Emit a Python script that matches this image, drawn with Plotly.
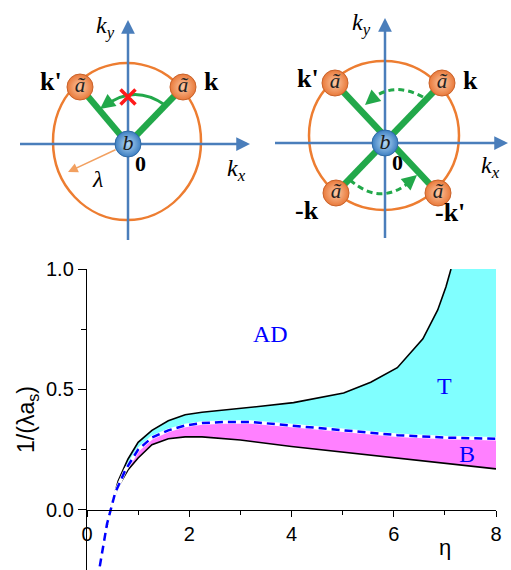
import plotly.graph_objects as go

# ---------------- phase diagram data (eta, 1/(lambda a_s)) ----------------
eta_upper = [0.39, 0.49, 0.61, 0.8, 1.0, 1.27, 1.59, 1.92, 2.25, 3.0, 3.4, 4.04, 5.02, 5.55, 6.07, 6.57, 6.86, 7.02, 7.12]
upper = [-0.07, 0.03, 0.12, 0.21, 0.28, 0.33, 0.37, 0.395, 0.405, 0.42, 0.43, 0.445, 0.485, 0.53, 0.59, 0.71, 0.83, 0.925, 1.0]

eta_lower = [0.39, 0.49, 0.61, 0.8, 1.0, 1.27, 1.59, 1.92, 2.25, 3.0, 4.0, 5.0, 6.0, 7.0, 8.0]
lower = [-0.07, 0.03, 0.095, 0.165, 0.215, 0.27, 0.295, 0.303, 0.303, 0.29, 0.263, 0.24, 0.217, 0.195, 0.17]

eta_dash = [0.25, 0.39, 0.55, 0.75, 1.0, 1.27, 1.59, 1.92, 2.25, 2.7, 3.2, 4.0, 5.0, 6.07, 7.0, 8.0]
dash = [-0.235, -0.06, 0.07, 0.165, 0.25, 0.30, 0.33, 0.35, 0.36, 0.365, 0.365, 0.35, 0.33, 0.31, 0.30, 0.295]

x_ticks = [0, 2, 4, 6, 8]
x_minor = [1, 3, 5, 7]
y_ticks = [0.0, 0.5, 1.0]
y_minor = [0.25, 0.75]
y_top = 1.0
x_end = 8.0

region_labels = ["AD", "T", "B"]
region_eta = [3.58, 6.99, 7.44]
region_y = [0.73, 0.515, 0.232]

# ---------------- momentum-space sketches (pixel-like coordinates) ----------------
# sketch 1
d1_b = [128, 144]
d1_a_x = [80, 183]
d1_a_y = [87, 87]
d1_ring = [53, 63, 201, 220]
d1_hax = [20, 250, 144]
d1_vax = [128, 240, 20]
# sketch 2
d2_b = [385, 143]
d2_a_x = [335, 442, 336, 438]
d2_a_y = [83, 83, 193, 193]
d2_ring = [309, 61, 459, 210]
d2_hax = [275, 508, 143]
d2_vax = [385, 238, 18]

AXC = "#4a7ebb"
RING = "#ed7d31"
GREEN = "#22a84a"
SERIF = "Liberation Serif"
SANS = "Liberation Sans"

fig = go.Figure()

# ----- fills -----
dash_x = [x for x in eta_dash if x >= 0.39]
dash_y = [y for x, y in zip(eta_dash, dash) if x >= 0.39]

cyan_x = eta_upper + [x_end] + dash_x[::-1]
cyan_y = upper + [y_top] + dash_y[::-1]
fig.add_trace(go.Scatter(x=cyan_x, y=cyan_y, fill="toself", fillcolor="#80ffff",
                         line=dict(width=0), mode="lines", hoverinfo="skip", showlegend=False))
mag_x = dash_x + eta_lower[::-1]
mag_y = dash_y + lower[::-1]
fig.add_trace(go.Scatter(x=mag_x, y=mag_y, fill="toself", fillcolor="#ff80ff",
                         line=dict(width=0), mode="lines", hoverinfo="skip", showlegend=False))

# ----- boundary lines -----
fig.add_trace(go.Scatter(x=eta_upper, y=upper, mode="lines", line=dict(color="black", width=1.6),
                         showlegend=False, hoverinfo="skip"))
fig.add_trace(go.Scatter(x=eta_lower, y=lower, mode="lines", line=dict(color="black", width=1.6),
                         showlegend=False, hoverinfo="skip"))
fig.add_trace(go.Scatter(x=dash_x, y=dash_y, mode="lines", line=dict(color="white", width=3.5),
                         showlegend=False, hoverinfo="skip"))
fig.add_trace(go.Scatter(x=eta_dash, y=dash, mode="lines",
                         line=dict(color="#0000ff", width=2.5, dash="8px,5px"),
                         showlegend=False, hoverinfo="skip", cliponaxis=False))

for lab_, ex, ey in zip(region_labels, region_eta, region_y):
    fig.add_annotation(x=ex, y=ey, xref="x", yref="y", text=lab_, showarrow=False,
                       font=dict(family=SERIF, size=24, color="#0000ff"))
fig.add_annotation(x=7.0, y=-0.158, xref="x", yref="y", text="η", showarrow=False,
                   font=dict(family=SANS, size=22, color="black"))

# ----- sketches: shapes -----
def ref2(d):
    d.update(xref="x2", yref="y2")
    return d

for ring in (d1_ring, d2_ring):
    fig.add_shape(ref2(dict(type="circle", x0=ring[0], y0=ring[1], x1=ring[2], y1=ring[3],
                            line=dict(color=RING, width=2.5), layer="below")))

for hax, vax in ((d1_hax, d1_vax), (d2_hax, d2_vax)):
    fig.add_shape(ref2(dict(type="line", x0=hax[0], x1=hax[1] - 6, y0=hax[2], y1=hax[2],
                            line=dict(color=AXC, width=2.5), layer="below")))
    fig.add_shape(ref2(dict(type="line", x0=vax[0], x1=vax[0], y0=vax[1], y1=vax[2] + 6,
                            line=dict(color=AXC, width=2.5), layer="below")))
    fig.add_annotation(xref="x2", yref="y2", axref="x2", ayref="y2", x=hax[1], y=hax[2],
                       ax=hax[1] - 14, ay=hax[2], text="", showarrow=True, arrowhead=2,
                       arrowsize=1.1, arrowwidth=2.5, arrowcolor=AXC)
    fig.add_annotation(xref="x2", yref="y2", axref="x2", ayref="y2", x=vax[0], y=vax[2],
                       ax=vax[0], ay=vax[2] + 14, text="", showarrow=True, arrowhead=2,
                       arrowsize=1.1, arrowwidth=2.5, arrowcolor=AXC)

# green bonds
for ax_, ay_ in zip(d1_a_x, d1_a_y):
    fig.add_shape(ref2(dict(type="line", x0=d1_b[0], y0=d1_b[1], x1=ax_, y1=ay_,
                            line=dict(color=GREEN, width=6.5), layer="below")))
fig.add_shape(ref2(dict(type="line", x0=d2_a_x[1], y0=d2_a_y[1], x1=d2_a_x[2], y1=d2_a_y[2],
                        line=dict(color=GREEN, width=6.5), layer="below")))
fig.add_shape(ref2(dict(type="line", x0=d2_a_x[0], y0=d2_a_y[0], x1=d2_a_x[3], y1=d2_a_y[3],
                        line=dict(color=GREEN, width=6.5), layer="below")))

# arcs
fig.add_shape(ref2(dict(type="path", path="M 165,105 Q 134,83.5 105,106",
                        line=dict(color=GREEN, width=3), layer="below")))
fig.add_annotation(xref="x2", yref="y2", axref="x2", ayref="y2", x=100, y=109, ax=108, ay=103,
                   text="", showarrow=True, arrowhead=2, arrowsize=1.0, arrowwidth=3, arrowcolor=GREEN)
fig.add_shape(ref2(dict(type="path", path="M 423,97 Q 392,80 368,102",
                        line=dict(color=GREEN, width=3, dash="6px,4px"), layer="below")))
fig.add_annotation(xref="x2", yref="y2", axref="x2", ayref="y2", x=365, y=105, ax=372, ay=99,
                   text="", showarrow=True, arrowhead=2, arrowsize=1.0, arrowwidth=3, arrowcolor=GREEN)
fig.add_shape(ref2(dict(type="path", path="M 350,180 Q 382,208 413,179",
                        line=dict(color=GREEN, width=3, dash="6px,4px"), layer="below")))
fig.add_annotation(xref="x2", yref="y2", axref="x2", ayref="y2", x=417, y=175, ax=410, ay=181,
                   text="", showarrow=True, arrowhead=2, arrowsize=1.0, arrowwidth=3, arrowcolor=GREEN)

# lambda arrow
fig.add_annotation(xref="x2", yref="y2", axref="x2", ayref="y2", x=68, y=172, ax=117, ay=149,
                   text="", showarrow=True, arrowhead=2, arrowsize=1.3, arrowwidth=1.5,
                   arrowcolor="#f2a060")

# balls
ball_font = dict(family=SERIF, size=21, color="#222222")
fig.add_trace(go.Scatter(x=d1_a_x + d2_a_x, y=d1_a_y + d2_a_y, xaxis="x2", yaxis="y2",
                         mode="markers+text", text=["<i>ã</i>"] * 6, textposition="middle center",
                         textfont=ball_font,
                         marker=dict(size=26, color="#e9793a",
                                     gradient=dict(type="radial", color="#fcc8a4"),
                                     line=dict(color="#c9622a", width=1)),
                         showlegend=False, hoverinfo="skip"))
fig.add_trace(go.Scatter(x=[d1_b[0], d2_b[0]], y=[d1_b[1], d2_b[1]], xaxis="x2", yaxis="y2",
                         mode="markers+text", text=["<i>b</i>"] * 2, textposition="middle center",
                         textfont=dict(family=SERIF, size=22, color="#1a1a1a"),
                         marker=dict(size=26, color="#3d7fc2",
                                     gradient=dict(type="radial", color="#b4d8f4"),
                                     line=dict(color="#2f6aa5", width=1)),
                         showlegend=False, hoverinfo="skip"))
# red cross
fig.add_trace(go.Scatter(x=[128], y=[97], xaxis="x2", yaxis="y2", mode="markers",
                         marker=dict(symbol="x-thin", size=15, line=dict(color="#ff1a1a", width=3.5)),
                         showlegend=False, hoverinfo="skip"))

# sketch labels
def lab(x, y, t, size=26, fam=SERIF):
    fig.add_annotation(xref="x2", yref="y2", x=x, y=y, text=t, showarrow=False,
                       font=dict(family=fam, size=size, color="black"))

lab(51, 81, "<b>k'</b>")
lab(211, 81, "<b>k</b>")
lab(140, 163, "<b>0</b>", 22)
lab(97, 179, "<i>λ</i>", 24)
lab(236, 170, "<i>k</i><sub><i>x</i></sub>", 24)
lab(105, 27, "<i>k</i><sub><i>y</i></sub>", 24)

lab(308, 78, "<b>k'</b>")
lab(470, 80, "<b>k</b>")
lab(307, 210, "<b>-k</b>")
lab(450, 212, "<b>-k'</b>")
lab(397, 162, "<b>0</b>", 22)
lab(490, 167, "<i>k</i><sub><i>x</i></sub>", 24)
lab(361, 24, "<i>k</i><sub><i>y</i></sub>", 24)

W, H = 511, 570
fig.update_layout(
    width=W, height=H, autosize=False,
    margin=dict(l=0, r=0, t=0, b=0, pad=0),
    paper_bgcolor="white", plot_bgcolor="rgba(0,0,0,0)",
    showlegend=False,
    xaxis=dict(domain=[87 / W, 496 / W], range=[0, x_end], anchor="free", automargin=False,
               position=1 - 510 / H, showgrid=False, zeroline=False,
               showline=True, linecolor="black", linewidth=1.4,
               ticks="outside", ticklen=6, tickwidth=1.4, tickcolor="black",
               tickvals=x_ticks, ticktext=[str(v) for v in x_ticks],
               tickfont=dict(family=SANS, size=20, color="black"),
               minor=dict(tickvals=x_minor, ticks="outside", ticklen=4, tickcolor="black", tickwidth=1.2)),
    yaxis=dict(domain=[0, 1 - 269 / H], range=[-0.25, y_top], anchor="x", automargin=False,
               showgrid=False, zeroline=False,
               showline=True, linecolor="black", linewidth=1.4,
               ticks="outside", ticklen=8, tickwidth=1.4, tickcolor="black",
               tickvals=y_ticks, ticktext=["%.1f" % v for v in y_ticks],
               tickfont=dict(family=SANS, size=20, color="black"),
               minor=dict(tickvals=y_minor, ticks="outside", ticklen=5, tickcolor="black", tickwidth=1.2),
               title=dict(text="1/(λa<sub>s</sub>)", font=dict(family=SANS, size=23, color="black"),
                          standoff=4)),
    xaxis2=dict(domain=[0, 1], range=[0, W], anchor="y2", visible=False, fixedrange=True,
                automargin=False),
    yaxis2=dict(domain=[0, 1], range=[H, 0], anchor="x2", visible=False, fixedrange=True,
                automargin=False),
)

fig.write_html("out.html", config={"displayModeBar": False},
               post_script="document.body.style.margin='0';document.body.style.overflow='hidden';")
